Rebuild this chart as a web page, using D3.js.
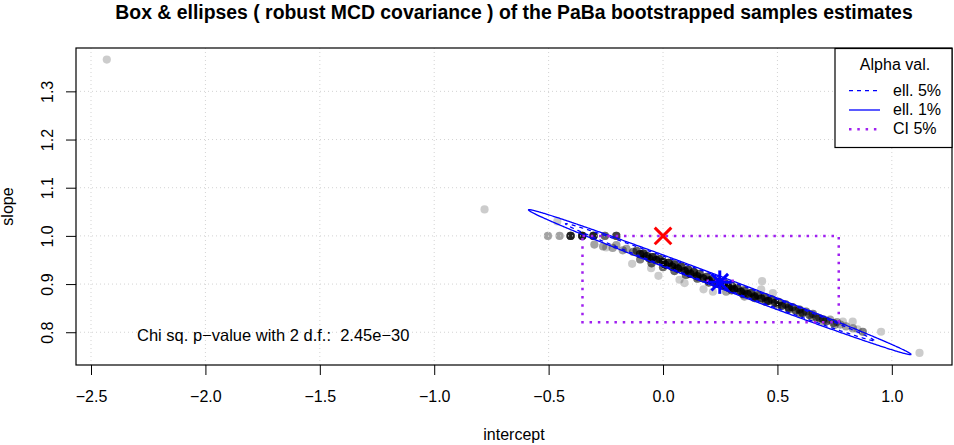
<!DOCTYPE html>
<html>
<head>
<meta charset="utf-8">
<script src="https://cdn.jsdelivr.net/npm/d3@7"></script>
<style>
  body { margin: 0; background: #fff; }
  svg { display: block; font-family: "Liberation Sans", Arial, Helvetica, sans-serif; }
  text { white-space: pre; }
</style>
</head>
<body>
<script>
"use strict";

// tick values of both axes
const xTicks = [-2.5, -2.0, -1.5, -1.0, -0.5, 0.0, 0.5, 1.0]
const yTicks = [0.8, 0.9, 1.0, 1.1, 1.2, 1.3]

// bootstrapped PaBa estimates (identical samples grouped with a count)
const bootIntercept = [-2.431, -0.780, -0.503, -0.462, -0.452, -0.404, -0.353, -0.304, -0.300, -0.262,
  -0.254, -0.248, -0.220, -0.204, -0.204, -0.176, -0.160, -0.135, -0.130, -0.115,
  -0.100, -0.085, -0.070, -0.060, -0.052, -0.045, -0.030, -0.020, -0.015, 0.000,
  0.010, 0.025, 0.040, 0.050, 0.065, 0.072, 0.080, 0.094, 0.095, 0.110,
  0.120, 0.135, 0.150, 0.160, 0.177, 0.175, 0.190, 0.200, 0.218, 0.215,
  0.230, 0.245, 0.260, 0.270, 0.276, 0.285, 0.300, 0.310, 0.325, 0.340,
  0.355, 0.356, 0.370, 0.385, 0.400, 0.415, 0.429, 0.433, 0.430, 0.445,
  0.460, 0.475, 0.480, 0.490, 0.505, 0.520, 0.535, 0.550, 0.565, 0.580,
  0.596, 0.610, 0.625, 0.640, 0.655, 0.670, 0.684, 0.700, 0.715, 0.730,
  0.745, 0.760, 0.775, 0.786, 0.800, 0.829, 0.830, 0.850, 0.873, 0.953, 1.121,
  -0.100, -0.050, 0.000, 0.050, 0.100, 0.150, 0.200, 0.300, 0.350, 0.400,
  0.450, 0.500, 0.550, 0.600, 0.650, 0.700, 0.750]
const bootSlope = [1.366, 1.055, 1.000, 1.030, 1.000, 1.000, 1.000, 1.000, 0.982, 0.978,
  1.000, 0.976, 0.975, 1.000, 0.981, 0.970, 0.973, 0.942, 0.967, 0.969,
  0.962, 0.963, 0.958, 0.953, 0.933, 0.956, 0.950, 0.917, 0.952, 0.946,
  0.940, 0.944, 0.936, 0.941, 0.932, 0.909, 0.936, 0.902, 0.927, 0.930,
  0.921, 0.925, 0.916, 0.921, 0.889, 0.912, 0.915, 0.907, 0.884, 0.910,
  0.901, 0.905, 0.897, 0.902, 0.884, 0.893, 0.897, 0.889, 0.892, 0.884,
  0.887, 0.874, 0.879, 0.882, 0.874, 0.877, 0.889, 0.906, 0.870, 0.873,
  0.865, 0.868, 0.881, 0.861, 0.863, 0.855, 0.858, 0.851, 0.852, 0.845,
  0.847, 0.840, 0.843, 0.836, 0.838, 0.831, 0.829, 0.827, 0.823, 0.826,
  0.819, 0.821, 0.816, 0.822, 0.812, 0.822, 0.808, 0.806, 0.801, 0.801, 0.757,
  0.951, 0.943, 0.935, 0.927, 0.919, 0.911, 0.903, 0.887, 0.879, 0.871,
  0.863, 0.855, 0.847, 0.839, 0.831, 0.823, 0.815]
const bootCount = [1, 1, 2, 1, 2, 9, 10, 9, 2, 2,
  4, 1, 2, 6, 2, 2, 2, 1, 3, 4,
  6, 7, 7, 5, 1, 8, 7, 1, 6, 8,
  6, 8, 7, 6, 8, 1, 6, 1, 8, 6,
  7, 7, 7, 5, 1, 7, 5, 8, 1, 5,
  7, 7, 8, 5, 2, 8, 5, 8, 6, 8,
  5, 2, 7, 6, 7, 5, 1, 1, 7, 5,
  7, 5, 1, 6, 4, 6, 4, 5, 4, 5,
  4, 5, 3, 4, 3, 4, 4, 3, 4, 2,
  3, 2, 2, 1, 2, 1, 2, 1, 3, 1, 1,
  3, 4, 4, 4, 4, 4, 4, 4, 4, 4,
  3, 3, 3, 3, 2, 2, 2]

// robust MCD location / covariance and chi-square quantiles (2 d.f.)
const mcdCenter = [0.248, 0.904]
const mcdCov = [[0.07589, -0.013614], [-0.013614, 0.0024594]]
const ellipseNames = ["ell. 5%", "ell. 1%"]
const chiQuantiles = [5.991, 9.210]

// percentile CI box and reference point (intercept 0, slope 1)
const ciIntercept = [-0.352, 0.768]
const ciSlope = [0.8208, 1.0]
const medianSegment = [0.19, 0.33]
const medianSlope = 0.907
const identityPoint = [0, 1]
const legendNames = ["ell. 5%", "ell. 1%", "CI 5%"]
const pValueLabel = "Chi sq. p\u2212value with 2 d.f.:  2.45e\u221230"

;(function(){
    const measurements = {
        width: 954,
        height: 445,
        left: 76,
        right: 952,
        top: 48,
        bottom: 365
    }
    const blue = "#0000FF"
    const purple = "#A020F0"

    let svg = d3.select("body").append("svg")
        .attr("width", measurements.width)
        .attr("height", measurements.height)

    let scaleX = d3.scaleLinear()
        .domain([-2.5656, 1.263])
        .range([measurements.left, measurements.right])
    let scaleY = d3.scaleLinear()
        .domain([0.732, 1.390])
        .range([measurements.bottom, measurements.top])

    // points, one circle per sample
    let samples = []
    bootIntercept.forEach((x, i) => {
        for (let k = 0; k < bootCount[i]; k++) samples.push([x, bootSlope[i]])
    })
    svg.append("g").selectAll("circle")
        .data(samples)
        .enter().append("circle")
        .attr("cx", d => scaleX(d[0]))
        .attr("cy", d => scaleY(d[1]))
        .attr("r", 4.1)
        .attr("fill", "#000")
        .attr("fill-opacity", 0.2)

    // grid
    let grid = svg.append("g")
        .attr("stroke", "#D3D3D3")
        .attr("stroke-dasharray", "1,3")
    grid.selectAll(".gx").data(xTicks).enter().append("line")
        .attr("x1", d => scaleX(d)).attr("x2", d => scaleX(d))
        .attr("y1", measurements.top).attr("y2", measurements.bottom)
    grid.selectAll(".gy").data(yTicks).enter().append("line")
        .attr("y1", d => scaleY(d)).attr("y2", d => scaleY(d))
        .attr("x1", measurements.left).attr("x2", measurements.right)

    // axes
    let xAxis = d3.axisBottom(scaleX)
        .tickValues(xTicks)
        .tickSize(10)
        .tickPadding(16)
        .tickFormat(d3.format(".1f"))
    let gx = svg.append("g")
        .attr("transform", "translate(0," + measurements.bottom + ")")
        .call(xAxis)
    gx.select(".domain").remove()
    gx.selectAll("text").attr("font-size", 16).attr("font-family", null).attr("fill", "#000")
    gx.selectAll("line").attr("stroke", "#000")

    let yAxis = d3.axisLeft(scaleY)
        .tickValues(yTicks)
        .tickSize(10)
        .tickFormat(d3.format(".1f"))
    let gy = svg.append("g")
        .attr("transform", "translate(" + measurements.left + ",0)")
        .call(yAxis)
    gy.select(".domain").remove()
    gy.selectAll("line").attr("stroke", "#000")
    gy.selectAll("text")
        .attr("font-size", 16).attr("font-family", null).attr("fill", "#000")
        .attr("x", null).attr("dy", null)
        .attr("text-anchor", "middle")
        .attr("transform", "translate(-23,0) rotate(-90)")

    // plot box
    svg.append("rect")
        .attr("x", measurements.left).attr("y", measurements.top)
        .attr("width", measurements.right - measurements.left)
        .attr("height", measurements.bottom - measurements.top)
        .attr("fill", "none").attr("stroke", "#000").attr("stroke-width", 1.2)

    // ellipses from the MCD covariance
    function ellipsePoints(center, cov, q) {
        const r = Math.sqrt(q)
        const l11 = Math.sqrt(cov[0][0])
        const l21 = cov[1][0] / l11
        const l22 = Math.sqrt(cov[1][1] - l21 * l21)
        return d3.range(0, 721).map(k => {
            const t = k * Math.PI / 360
            const a = r * Math.cos(t), b = r * Math.sin(t)
            return [center[0] + l11 * a, center[1] + l21 * a + l22 * b]
        })
    }
    let line = d3.line().x(d => scaleX(d[0])).y(d => scaleY(d[1]))
    chiQuantiles.forEach((q, i) => {
        svg.append("path")
            .attr("d", line(ellipsePoints(mcdCenter, mcdCov, q)))
            .attr("fill", "none")
            .attr("stroke", blue)
            .attr("stroke-width", 1.3)
            .attr("stroke-dasharray", i == 0 ? "4,4" : null)
    })

    // CI box
    svg.append("rect")
        .attr("x", scaleX(ciIntercept[0]))
        .attr("y", scaleY(ciSlope[1]))
        .attr("width", scaleX(ciIntercept[1]) - scaleX(ciIntercept[0]))
        .attr("height", scaleY(ciSlope[0]) - scaleY(ciSlope[1]))
        .attr("fill", "none")
        .attr("stroke", purple)
        .attr("stroke-width", 2.5)
        .attr("stroke-dasharray", "2.5,5.8")
    svg.append("line")
        .attr("x1", scaleX(medianSegment[0])).attr("x2", scaleX(medianSegment[1]))
        .attr("y1", scaleY(medianSlope)).attr("y2", scaleY(medianSlope))
        .attr("stroke", purple).attr("stroke-width", 2.5)
        .attr("stroke-dasharray", "2.5,5.8")

    // red cross at (0, 1)
    let cx = scaleX(identityPoint[0]), cy = scaleY(identityPoint[1])
    let cross = svg.append("g").attr("stroke", "#FF0000").attr("stroke-width", 3)
    cross.append("line").attr("x1", cx - 8.3).attr("y1", cy - 8.3).attr("x2", cx + 8.3).attr("y2", cy + 8.3)
    cross.append("line").attr("x1", cx - 8.3).attr("y1", cy + 8.3).attr("x2", cx + 8.3).attr("y2", cy - 8.3)

    // blue asterisk at the MCD center
    let sx = scaleX(mcdCenter[0]), sy = scaleY(mcdCenter[1])
    let star = svg.append("g").attr("stroke", blue).attr("stroke-width", 3)
    star.append("line").attr("x1", sx - 8.3).attr("y1", sy - 8.3).attr("x2", sx + 8.3).attr("y2", sy + 8.3)
    star.append("line").attr("x1", sx - 8.3).attr("y1", sy + 8.3).attr("x2", sx + 8.3).attr("y2", sy - 8.3)
    star.append("line").attr("x1", sx - 11.7).attr("y1", sy).attr("x2", sx + 11.7).attr("y2", sy)
    star.append("line").attr("x1", sx).attr("y1", sy - 11.7).attr("x2", sx).attr("y2", sy + 11.7)

    // p-value text
    svg.append("text")
        .attr("x", 137).attr("y", 341)
        .attr("font-size", 16.5)
        .text(pValueLabel)

    // titles
    svg.append("text")
        .attr("x", (measurements.left + measurements.right) / 2).attr("y", 18.5)
        .attr("text-anchor", "middle")
        .attr("font-size", 19.4).attr("font-weight", "bold")
        .text("Box & ellipses ( robust MCD covariance ) of the PaBa bootstrapped samples estimates")
    svg.append("text")
        .attr("x", (measurements.left + measurements.right) / 2).attr("y", 440)
        .attr("text-anchor", "middle")
        .attr("font-size", 16)
        .text("intercept")
    svg.append("text")
        .attr("transform", "translate(13," + (measurements.top + measurements.bottom) / 2 + ") rotate(-90)")
        .attr("text-anchor", "middle")
        .attr("font-size", 16)
        .text("slope")

    // legend
    let legend = svg.append("g")
    legend.append("rect")
        .attr("x", 835).attr("y", 48.5)
        .attr("width", 117).attr("height", 99)
        .attr("fill", "#fff").attr("stroke", "#000").attr("stroke-width", 1.2)
    legend.append("text")
        .attr("x", 895).attr("y", 69.5)
        .attr("text-anchor", "middle")
        .attr("font-size", 16)
        .text("Alpha val.")
    const legendStyle = [
        { color: blue, dash: "4,4", width: 1.3 },
        { color: blue, dash: null, width: 1.3 },
        { color: purple, dash: "2.5,5.8", width: 2.5 }
    ]
    legendNames.forEach((name, i) => {
        let y = 95.7 + i * 19.3
        legend.append("line")
            .attr("x1", 849).attr("x2", 880)
            .attr("y1", y - 5).attr("y2", y - 5)
            .attr("stroke", legendStyle[i].color)
            .attr("stroke-width", legendStyle[i].width)
            .attr("stroke-dasharray", legendStyle[i].dash)
        legend.append("text")
            .attr("x", 893).attr("y", y)
            .attr("font-size", 16)
            .text(name)
    })
})()
</script>
</body>
</html>
